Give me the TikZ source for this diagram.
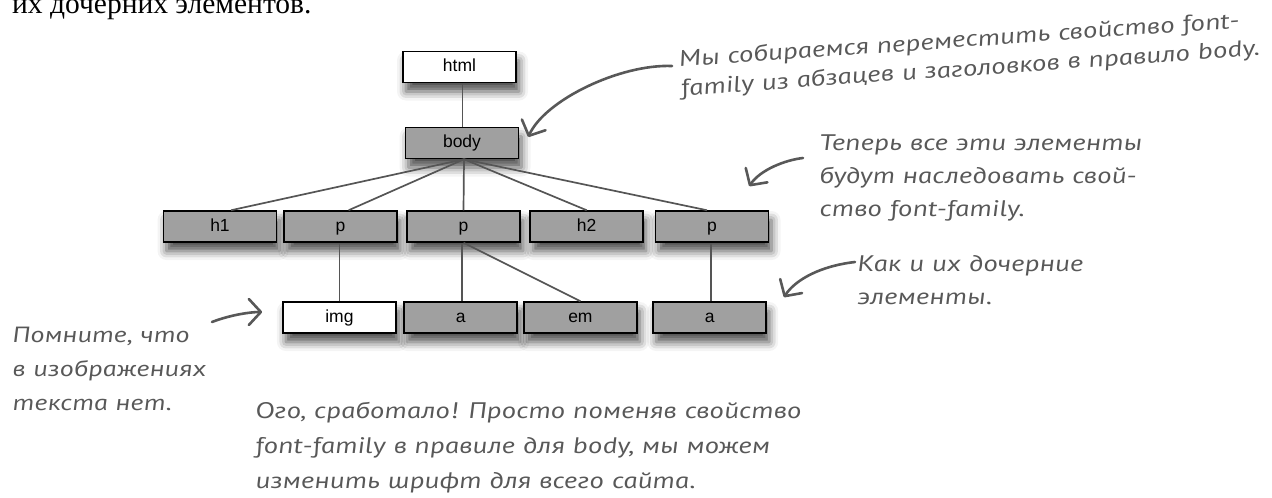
\documentclass[tikz,border=0pt]{standalone}
\usepackage{fontspec}
\setmainfont{Liberation Serif}
\newfontfamily\boxfont{Liberation Sans}
\newfontfamily\hand{PT Sans Italic}[FakeSlant=-0.15,FakeStretch=1.3]
\usetikzlibrary{arrows.meta,shadows.blur}
\definecolor{boxgray}{HTML}{A0A0A0}
\definecolor{ink}{HTML}{585858}
\definecolor{linegray}{HTML}{555555}
\newcommand{\lines}[1]{\begin{tabular}[t]{@{}l@{}}#1\end{tabular}}
\begin{document}
\begin{tikzpicture}[x=1pt,y=-1pt,
  elem/.style={draw=black, line width=1.5pt, fill=boxgray, minimum width=113pt,
    minimum height=31pt, inner sep=0pt, text height=12pt, text depth=3pt,
    font=\boxfont\fontsize{17.5}{19}\selectfont,
    blur shadow={shadow xshift=3pt, shadow yshift=-9pt, shadow blur radius=9pt, shadow opacity=70}},
  welem/.style={elem, fill=white},
  tree/.style={draw=linegray, line width=1.7pt},
  note/.style={text=ink, anchor=base west, inner sep=0pt},
  callout/.style={draw=ink, line width=2.6pt, line cap=round,
    -{Straight Barb[length=12pt,width=26pt,round]}},
]
\useasboundingbox (0,0) rectangle (1272,498);

% body text fragment at top
\node[anchor=base west, inner sep=0pt, font=\fontsize{29.5}{30}\selectfont] (intro) at (12,13) {их дочерних элементов.};

% tree
\node[welem] (html) at (459.5,67) {html};
\node[elem] (body) at (462,143) {body};
\node[elem] (h1) at (220,226.5) {h1};
\node[elem] (p1) at (340.6,226.5) {p};
\node[elem] (p2) at (463.5,226.5) {p};
\node[elem] (h2) at (586.7,226.5) {h2};
\node[elem] (p3) at (712,226.5) {p};
\node[welem] (img) at (339.4,317.5) {img};
\node[elem] (a1) at (460.7,317.5) {a};
\node[elem] (em) at (580.4,317.5) {em};
\node[elem] (a2) at (709.7,317.5) {a};

\draw[tree] ([xshift=3pt]html.south) -- ([xshift=3pt]html.south |- body.north);
\draw[tree] ([xshift=2pt]body.south) -- ([xshift=11pt]h1.north);
\draw[tree] ([xshift=2pt]body.south) -- ([xshift=8pt]p1.north);
\draw[tree] ([xshift=2pt]body.south) -- (p2.north);
\draw[tree] ([xshift=2pt]body.south) -- (h2.north);
\draw[tree] ([xshift=2pt]body.south) -- ([xshift=-5pt]p3.north);
\draw[tree] (img.north) -- (img.north |- p1.south);
\draw[tree] ([xshift=1pt]a1.north) -- ([xshift=1pt]a1.north |- p2.south);
\draw[tree] (p2.south) -- (em.north);
\draw[tree] ([xshift=1pt]a2.north) -- ([xshift=1pt]a2.north |- p3.south);

% annotations
\node[note, rotate=4, font=\hand\fontsize{22.5}{29}\selectfont] (n1) at (680,67)
  {\lines{Мы собираемся переместить свойство font-\\family из абзацев и заголовков в правило body.}};
\node[note, font=\hand\fontsize{22.5}{33}\selectfont] (n2) at (820,150)
  {\lines{Теперь все эти элементы\\будут наследовать свой-\\ство font-family.}};
\node[note, font=\hand\fontsize{22.5}{33}\selectfont] (n3) at (858,271)
  {\lines{Как и их дочерние\\элементы.}};
\node[note, font=\hand\fontsize{22}{34}\selectfont] (n4) at (13,342)
  {\lines{Помните, что\\в изображениях\\текста нет.}};
\node[note, font=\hand\fontsize{22.5}{35}\selectfont] (n5) at (256,418)
  {\lines{Ого, сработало! Просто поменяв свойство\\font-family в правиле для body, мы можем\\изменить шрифт для всего сайта.}};

\coordinate (c1) at (672,66);
\coordinate (c2) at (803,158);
\coordinate (c3) at (855,262);
\coordinate (c4) at (212,322);

\draw[callout] (c1) .. controls (620,64) and (545,100) .. ([xshift=9pt,yshift=6pt]body.east);
\draw[callout] (c2) .. controls (785,160) and (760,170) .. ([xshift=-20pt,yshift=24pt]p3.north east);
\draw[callout] (c3) .. controls (820,266) and (795,280) .. ([xshift=17pt,yshift=4pt]a2.north east);
\draw[callout] (c4) .. controls (230,315) and (250,312) .. ([xshift=-20pt,yshift=5.5pt]img.west);
\end{tikzpicture}
\end{document}
